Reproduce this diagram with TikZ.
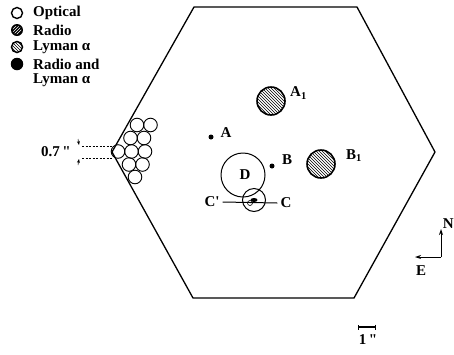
\documentclass[tikz,border=0pt]{standalone}
\usepackage{fontspec}
\setmainfont{Liberation Serif}
\usetikzlibrary{patterns,arrows.meta,shapes.geometric}
\begin{document}
\begin{tikzpicture}[x=1pt,y=-1pt,
  lbl/.style={font=\bfseries\fontsize{15}{15}\selectfont, inner sep=0pt},
  leg/.style={font=\bfseries\fontsize{15}{15}\selectfont, inner sep=0pt, anchor=west},
  clus/.style={draw, circle, line width=0.9pt, minimum size=13.6pt, inner sep=0pt},
  dotp/.style={fill, circle, minimum size=5pt, inner sep=0pt},
  lyman/.style={draw, circle, line width=1.6pt, pattern=north west lines, inner sep=0pt}]
\useasboundingbox (0,0) rectangle (454,354);
% hexagon
\draw[line width=1.3pt, line join=miter] (194,7) -- (357,7) -- (435,152) -- (354,298) -- (193,298) -- (112,152) -- cycle;
% legend
\node[draw, circle, line width=1.4pt, minimum size=11pt, inner sep=0pt] (l1) at (17,13) {};
\node[circle, fill=black, minimum size=12pt, inner sep=0pt] (l2) at (17,30) {};
\fill[pattern=north east lines, pattern color=white] (17,30) circle (4.3pt);
\node[draw, circle, line width=1.5pt, minimum size=11pt, inner sep=0pt, pattern=north west lines] (l3) at (17,47) {};
\node[circle, fill=black, minimum size=12.5pt, inner sep=0pt] (l4) at (17,64) {};
\node[leg] (t1) at (33,13) {Optical};
\node[leg] (t2) at (33,30) {Radio};
\node[leg] (t3) at (33,47) {Lyman α};
\node[leg] (t4) at (33,64) {Radio and};
\node[leg] (t5) at (33,80) {Lyman α};
% cluster
\foreach \i/\x/\y in {1/137/125,2/150.5/125,3/130.5/138,4/144/138,5/118/151.5,6/131.5/151.5,7/145/151.5,8/129/164.5,9/142.5/164.5,10/135/177}
  \node[clus] (c\i) at (\x,\y) {};
% 0.7 arcsec marker
\node[lbl] (s07) at (56,152) {0.7\,\textquotedbl};
\coordinate (d1a) at (82,146); \coordinate (d1b) at (113,146);
\coordinate (d2a) at (82,158); \coordinate (d2b) at (113,158);
\draw[line width=0.8pt, dash pattern=on 2pt off 1.5pt] (d1a) -- (d1b);
\draw[line width=0.8pt, dash pattern=on 2pt off 1.5pt] (d2a) -- (d2b);
\coordinate (ar1) at (78,139); \coordinate (ar1e) at (79,145);
\coordinate (ar2) at (78,165); \coordinate (ar2e) at (79,159);
\draw[-{Stealth[length=4pt,width=3pt]}, line width=0.5pt] (ar1) -- (ar1e);
\draw[-{Stealth[length=4pt,width=3pt]}, line width=0.5pt] (ar2) -- (ar2e);
% sources
\node[dotp] (A) at (211,137) {};
\node[lbl] (Al) at (226,133) {A};
\node[dotp] (B) at (272,166) {};
\node[lbl] (Bl) at (287,160) {B};
\node[lyman, minimum size=28pt] (A1) at (271,101) {};
\node[lbl, anchor=west] (A1l) at (290,93) {A\textsubscript{1}};
\node[lyman, minimum size=28pt] (B1) at (321,164) {};
\node[lbl, anchor=west] (B1l) at (346,156) {B\textsubscript{1}};
% D circle
\node[draw, circle, line width=1pt, minimum size=44pt, inner sep=0pt] (D) at (243,175) {};
\node[lbl] (Dl) at (245,175) {D};
\node[draw, circle, line width=1pt, minimum size=23pt, inner sep=0pt] (Cc) at (254,200) {};
\node[fill, ellipse, minimum width=7pt, minimum height=4pt, inner sep=0pt] (Cd) at (254,200) {};
\node[draw, circle, line width=0.6pt, minimum size=5pt, inner sep=0pt] (Co) at (250,203) {};
\node[lbl] (Cp) at (212,202) {C\textquotesingle};
\node[lbl] (C) at (286,203) {C};
\draw[line width=1pt] ([xshift=3pt]Cp.east) -- ([xshift=-3pt]C.west);
% compass
\coordinate (o) at (441,257);
\coordinate (nN) at (441,229);
\coordinate (nE) at (415,257);
\draw[line width=1pt, -{Stealth[length=6pt,width=4pt]}] (o) -- (nN);
\draw[line width=1pt, -{Stealth[length=6pt,width=4pt]}] (o) -- (nE);
\node[lbl, anchor=east] (N) at (454,224) {N};
\node[lbl] (E) at (421,271) {E};
% scale bar
\coordinate (s1) at (358,327); \coordinate (s2) at (376,327);
\draw[line width=1.2pt, {Bar[width=5pt]}-{Bar[width=5pt]}] (s1) -- (s2);
\node[lbl] (one) at (368,340) {1\,\textquotedbl};
\end{tikzpicture}
\end{document}
